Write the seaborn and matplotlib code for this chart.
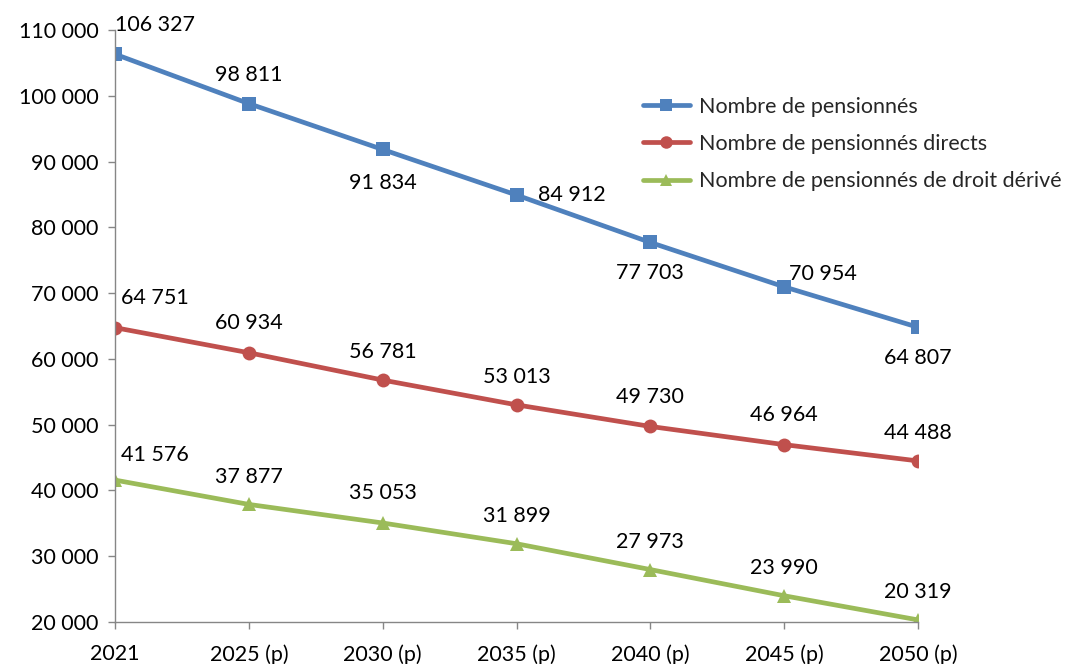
import numpy as np
import pandas as pd
import matplotlib
matplotlib.use("Agg")
import matplotlib.pyplot as plt
import seaborn as sns

# Data
years = ["2021", "2025 (p)", "2030 (p)", "2035 (p)", "2040 (p)", "2045 (p)", "2050 (p)"]
total = [106327, 98811, 91834, 84912, 77703, 70954, 64807]
directs = [64751, 60934, 56781, 53013, 49730, 46964, 44488]
derives = [41576, 37877, 35053, 31899, 27973, 23990, 20319]

series_names = [
    "Nombre de pensionnés",
    "Nombre de pensionnés directs",
    "Nombre de pensionnés de droit dérivé",
]
colors = ["#4F81BD", "#C0504D", "#9BBB59"]
markers = ["s", "o", "^"]

# label offsets (pixels) for each data label, as placed in the original
total_offsets = [(40, 29), (0, 29), (0, -34), (22, 0, "left"), (0, -31), (5, 13, "left"), (0, -31)]
directs_offsets = [(40, 30), (0, 30), (0, 28), (0, 28), (0, 29), (0, 30), (0, 28)]
derives_offsets = [(40, 25), (0, 27), (0, 30), (0, 28), (0, 28), (0, 28), (0, 28)]

df = pd.DataFrame({
    "annee": years * 3,
    "valeur": total + directs + derives,
    "serie": np.repeat(series_names, len(years)),
})

sns.set_style("white")
plt.rcParams["font.family"] = ["Lato", "DejaVu Sans"]
FS = 15.5

fig = plt.figure(figsize=(10.87, 6.64), dpi=100)
ax = fig.add_axes([115 / 1087, 42 / 664, (918 - 115) / 1087, (622 - 30) / 664])

sns.lineplot(
    data=df, x="annee", y="valeur", hue="serie", style="serie",
    palette=dict(zip(series_names, colors)),
    markers=dict(zip(series_names, markers)),
    dashes=False, sort=False, linewidth=3.4, markersize=10,
    markeredgewidth=0, ax=ax,
)


def fmt(v):
    return f"{v:,}".replace(",", " ")


for vals, offs in [(total, total_offsets), (directs, directs_offsets), (derives, derives_offsets)]:
    for i, (v, off) in enumerate(zip(vals, offs)):
        ha = off[2] if len(off) > 2 else "center"
        ax.annotate(fmt(v), (i, v), xytext=(off[0], off[1]), textcoords="offset pixels",
                    ha=ha, va="center", fontsize=FS, color="black")

ax.set_xlim(0, len(years) - 1)
ax.set_ylim(20000, 110000)
yt = np.arange(20000, 110001, 10000)
ax.set_yticks(yt)
ax.set_yticklabels([fmt(v) for v in yt])
ax.set_xlabel("")
ax.set_ylabel("")

for s in ["top", "right"]:
    ax.spines[s].set_visible(False)
for s in ["left", "bottom"]:
    ax.spines[s].set_color("#868686")
    ax.spines[s].set_linewidth(1)
ax.tick_params(axis="both", which="both", length=5, width=1, color="#868686",
               labelsize=FS, labelcolor="black", direction="out",
               left=True, bottom=True)
ax.tick_params(axis="x", pad=11)
ax.tick_params(axis="y", pad=7)
ax.grid(False)

leg = ax.legend(loc="upper left", bbox_to_anchor=(519 / 803, 1 - 58 / 592),
                frameon=False, fontsize=FS, handlelength=2.2, labelspacing=0.8,
                borderaxespad=0, handletextpad=0.4)
for h in leg.legend_handles:
    h.set_linewidth(3.4)
    h.set_markersize(9)

fig.savefig("out.png", dpi=100)
